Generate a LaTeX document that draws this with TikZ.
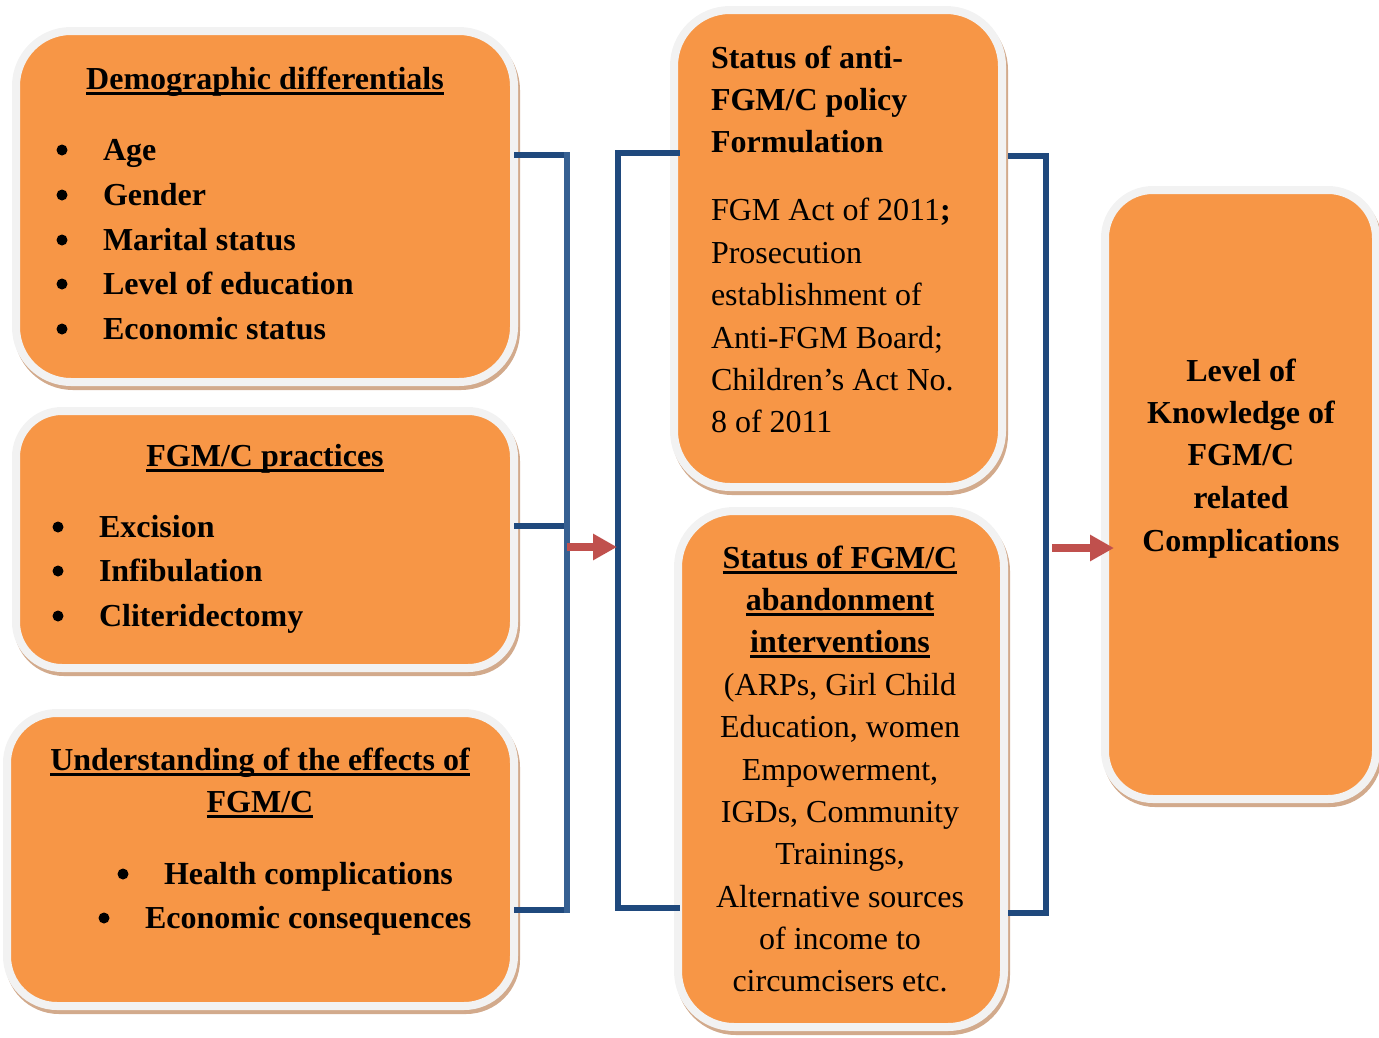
\documentclass[tikz,border=0pt]{standalone}
\usepackage{fontspec}
\setmainfont{Liberation Serif}
\usetikzlibrary{arrows.meta}
\definecolor{org}{HTML}{F79646}
\definecolor{brd}{HTML}{F2F2F2}
\definecolor{shd}{HTML}{D2AA8C}
\definecolor{bdark}{HTML}{1F497D}
\definecolor{blight}{HTML}{366092}
\definecolor{rarr}{HTML}{C0504D}
\newcommand\ulx[1]{\setbox0=\hbox{#1}\rlap{\rule[-5.5pt]{\wd0}{2.5pt}}\box0}
\begin{document}
\begin{tikzpicture}[x=1pt,y=-1pt,
  obox/.style={fill=org, draw=brd, line width=8pt, inner sep=0pt, outer sep=0pt,
    preaction={draw=shd, fill=shd, line width=8pt, transform canvas={xshift=2pt,yshift=-4pt}}},
  t/.style={font=\fontsize{32}{40}\selectfont, inner sep=0pt, outer sep=0pt, text=black},
  tb/.style={font=\fontsize{32}{40}\selectfont\bfseries, inner sep=0pt, outer sep=0pt, text=black},
  bul/.style={circle, fill=black, inner sep=0pt, outer sep=0pt, minimum size=11pt},
  bd/.style={draw=bdark, line width=6pt},
  bl/.style={draw=blight, line width=6pt, line cap=rect},
  bv/.style={draw=bdark, line width=6pt, line cap=rect},
  rarrow/.style={draw=rarr, line width=8pt, -{Triangle[length=24pt,width=25pt]}}
]
\useasboundingbox (0,0) rectangle (1379,1037);
\clip (0,0) rectangle (1379,1037);

% boxes
\node[obox, minimum width=498pt, minimum height=351pt, rounded corners=55pt] (b1) at (265,206.5) {};
\node[obox, minimum width=498pt, minimum height=257pt, rounded corners=46pt] (b2) at (265,539.5) {};
\node[obox, minimum width=507pt, minimum height=293pt, rounded corners=50pt] (b3) at (260.5,859.5) {};
\node[obox, minimum width=328pt, minimum height=477pt, rounded corners=56pt] (mt) at (838,248.5) {};
\node[obox, minimum width=326pt, minimum height=516pt, rounded corners=56pt] (mb) at (841,769) {};
\node[obox, minimum width=271pt, minimum height=609pt, rounded corners=48pt] (rb) at (1240.5,494.5) {};

% box 1 text
\node[tb, anchor=base] (d0) at (265,89) {\ulx{Demographic differentials}};
\node[bul] (db1) at (62,150) {};
\node[tb, anchor=base west] (d1) at (103,160) {Age};
\node[bul] (db2) at (62,195) {};
\node[tb, anchor=base west] (d2) at (103,205) {Gender};
\node[bul] (db3) at (62,240) {};
\node[tb, anchor=base west] (d3) at (103,250) {Marital status};
\node[bul] (db4) at (62,284) {};
\node[tb, anchor=base west] (d4) at (103,294) {Level of education};
\node[bul] (db5) at (62,329) {};
\node[tb, anchor=base west] (d5) at (103,339) {Economic status};

% box 2 text
\node[tb, anchor=base] (p0) at (265,466) {\ulx{FGM/C practices}};
\node[bul] (pb1) at (58,527) {};
\node[tb, anchor=base west] (p1) at (99,537) {Excision};
\node[bul] (pb2) at (58,571) {};
\node[tb, anchor=base west] (p2) at (99,581) {Infibulation};
\node[bul] (pb3) at (58,616) {};
\node[tb, anchor=base west] (p3) at (99,626) {Cliteridectomy};

% box 3 text
\node[tb, anchor=base] (u0) at (260,770) {\ulx{Understanding of the effects of}};
\node[tb, anchor=base] (u1) at (260,812) {\ulx{FGM/C}};
\node[bul] (ub1) at (123,874) {};
\node[tb, anchor=base west] (u2) at (164,884) {Health complications};
\node[bul] (ub2) at (104,918) {};
\node[tb, anchor=base west] (u3) at (145,928) {Economic consequences};

% middle top text
\node[tb, anchor=base west] (m1) at (711,68) {Status of anti-};
\node[tb, anchor=base west] (m2) at (711,110) {FGM/C policy};
\node[tb, anchor=base west] (m3) at (711,152) {Formulation};
\node[t, anchor=base west] (m4) at (711,220) {FGM Act of 2011\textbf{;}};
\node[t, anchor=base west] (m5) at (711,263) {Prosecution};
\node[t, anchor=base west] (m6) at (711,305) {establishment of};
\node[t, anchor=base west] (m7) at (711,348) {Anti-FGM Board;};
\node[t, anchor=base west] (m8) at (711,390) {Children’s Act No.};
\node[t, anchor=base west] (m9) at (711,432) {8 of 2011};

% middle bottom text
\node[tb, anchor=base] (n1) at (840,568) {\ulx{Status of FGM/C}};
\node[tb, anchor=base] (n2) at (840,610) {\ulx{abandonment}};
\node[tb, anchor=base] (n3) at (840,652) {\ulx{interventions}};
\node[t, anchor=base] (n4) at (840,695) {(ARPs, Girl Child};
\node[t, anchor=base] (n5) at (840,737) {Education, women};
\node[t, anchor=base] (n6) at (840,780) {Empowerment,};
\node[t, anchor=base] (n7) at (840,822) {IGDs, Community};
\node[t, anchor=base] (n8) at (840,864) {Trainings,};
\node[t, anchor=base] (n9) at (840,907) {Alternative sources};
\node[t, anchor=base] (n10) at (840,949) {of income to};
\node[t, anchor=base] (n11) at (840,991) {circumcisers etc.};

% right box text
\node[tb, anchor=base] (r1) at (1241,381) {Level of};
\node[tb, anchor=base] (r2) at (1241,423) {Knowledge of};
\node[tb, anchor=base] (r3) at (1241,465) {FGM/C};
\node[tb, anchor=base] (r4) at (1241,508) {related};
\node[tb, anchor=base] (r5) at (1241,551) {Complications};

% connector coordinates
\coordinate (L1) at (567,155);
\coordinate (L2) at (567,526);
\coordinate (L3) at (567,910);
\coordinate (M1) at (618,153);
\coordinate (M2) at (618,908);
\coordinate (N1) at (1046,156);
\coordinate (N2) at (1046,913);
\coordinate (A1) at (567,547);
\coordinate (A1e) at (617,547);
\coordinate (A2) at (1052,548);
\coordinate (A2e) at (1114,548);

% left bracket
\draw[bd] (b1.east |- L1) -- (L1);
\draw[bd] (b2.east |- L2) -- (L2);
\draw[bd] (b3.east |- L3) -- (L3);
\draw[bl] (L1) -- (L3);
% middle bracket
\draw[bd] (M1) -- ([xshift=6pt]mt.west |- M1);
\draw[bd] (M2) -- ([xshift=2pt]mb.west |- M2);
\draw[bv] (M1) -- (M2);
% right bracket
\draw[bd] ([xshift=6pt]mt.east |- N1) -- (N1);
\draw[bd] ([xshift=4pt]mb.east |- N2) -- (N2);
\draw[bv] (N1) -- (N2);
% arrows
\draw[rarrow] (A1) -- (A1e);
\draw[rarrow] (A2) -- (A2e);
\end{tikzpicture}
\end{document}
